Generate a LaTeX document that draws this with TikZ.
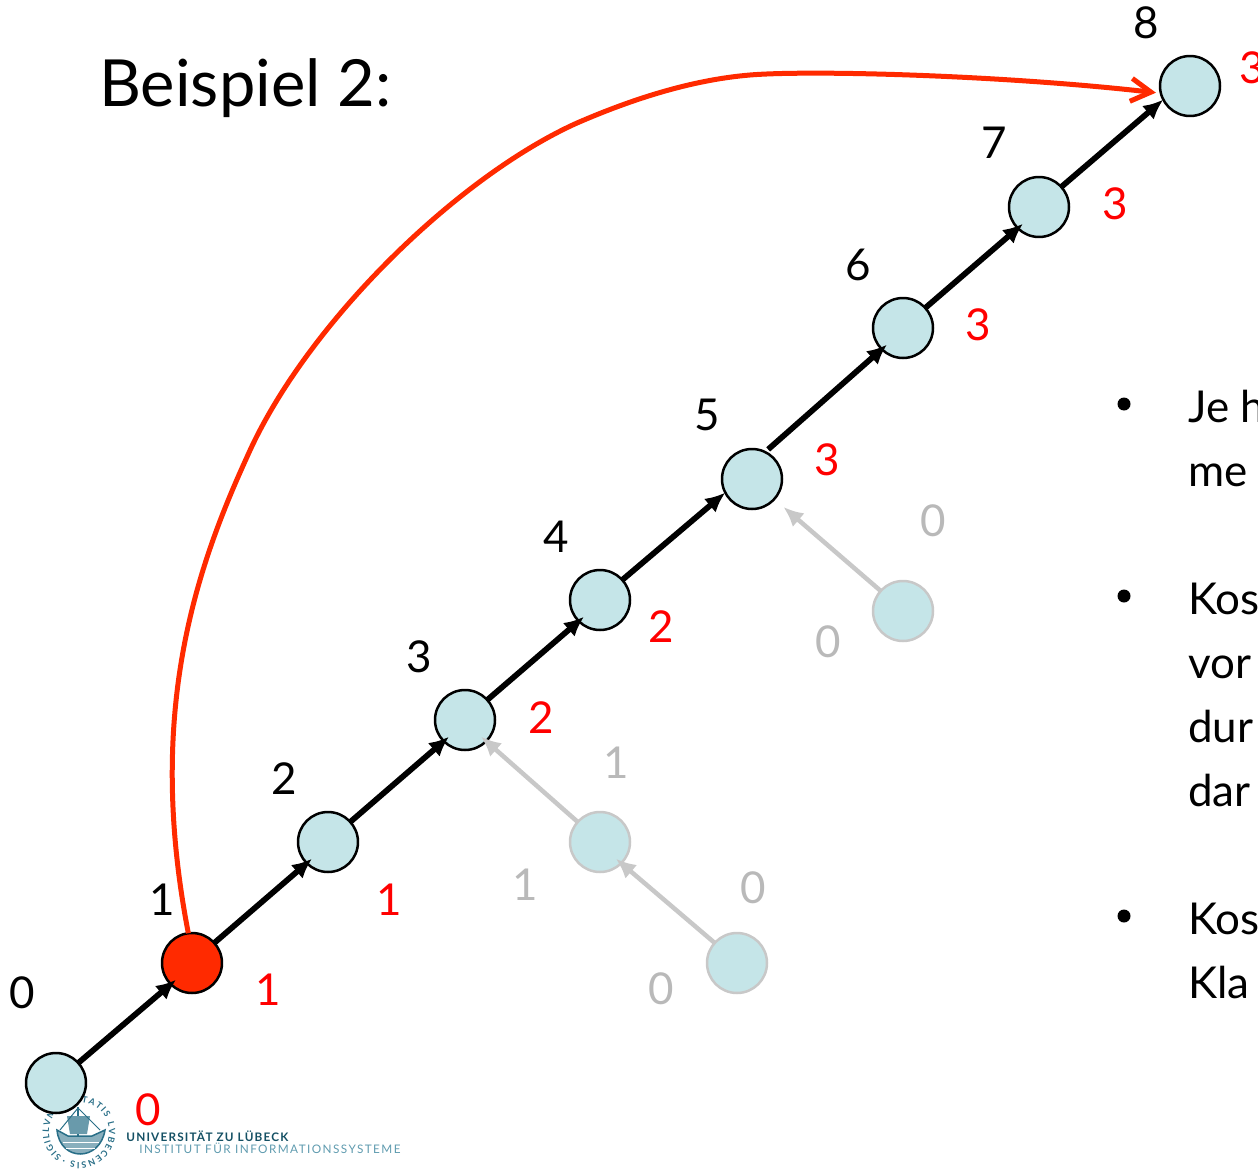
\documentclass[tikz,border=0pt]{standalone}
\usepackage{fontspec}
\setmainfont{Lato}
\usepackage{tikz}
\definecolor{vertexfill}{RGB}{197, 229, 232}
\definecolor{hitred}{RGB}{255, 42, 0}
\definecolor{rankred}{RGB}{255, 0, 0}
\definecolor{fadegray}{RGB}{200, 200, 200}
\definecolor{fadetext}{RGB}{185, 185, 185}
\definecolor{sealblue}{RGB}{40, 110, 135}
\definecolor{unidark}{RGB}{20, 80, 100}
\definecolor{unilight}{RGB}{95, 155, 175}
\usetikzlibrary{arrows.meta, decorations.text}

\begin{document}
\begin{tikzpicture}[
    x=0.02cm, y=-0.02cm,
    vertex/.style={circle, draw=black, line width=0.05cm, fill=vertexfill, minimum size=1.2cm, inner sep=0pt, outer sep=0pt},
    fadedvertex/.style={vertex, draw=fadegray},
    edge/.style={-{Latex[length=0.4cm, width=0.36cm]}, line width=0.115cm},
    fadededge/.style={edge, draw=fadegray},
    into/.style={shorten >=-0.14cm},
    index/.style={font=\fontsize{25}{25}\selectfont, inner sep=0pt},
    rank/.style={index, text=rankred},
    fadedrank/.style={index, text=fadetext},
    bulletitem/.style={font=\fontsize{25}{25}\selectfont, anchor=base west, inner sep=0pt},
    bulletdot/.style={circle, fill=black, minimum size=0.26cm, inner sep=0pt},
    logotext/.style={anchor=base west, inner sep=0pt}
]
    \clip (0,0) rectangle (1258,1170);

    \node[font=\fontsize{37}{37}\selectfont, anchor=base west, inner sep=0pt] (title) at (99,106) {Beispiel 2:};

    % seal and institute
    \coordinate (seal) at (79,1132);
    \path[decorate, decoration={text along path, text color=sealblue, text align=fit to path,
        text={|\fontsize{5}{5}\bfseries\selectfont|SIGILLVM CIVITATIS LVBECENSIS ·}}]
        ([shift={(235:0.6cm)}]seal) arc[start angle=235, end angle=-120, radius=0.6cm];
    \draw[sealblue, line width=0.03cm, fill=sealblue!55] (57,1130) .. controls (60,1162) and (100,1162) .. (105,1130) -- (92,1136) -- (68,1136) -- cycle;
    \draw[white, line width=0.02cm] (63,1142) -- (99,1142) (66,1148) -- (95,1148);
    \draw[sealblue, line width=0.05cm] (78,1107) -- (78,1137);
    \fill[sealblue!70] (67,1116) -- (90,1116) -- (87,1134) -- (70,1134) -- cycle;
    \draw[sealblue, line width=0.02cm] (78,1108) -- (60,1130) (78,1108) -- (100,1130);
    \node[logotext, font=\fontsize{6.7}{7}\bfseries\selectfont\addfontfeature{LetterSpace=10}, text=unidark] (uni) at (126,1141) {UNIVERSITÄT ZU LÜBECK};
    \node[logotext, font=\fontsize{6.7}{7}\selectfont\addfontfeature{LetterSpace=12}, text=unilight] (inst) at (139,1153) {INSTITUT FÜR INFORMATIONSSYSTEME};

    \node[vertex] (n0) at (56,1083) {};
    \node[vertex, fill=hitred] (n1) at (192,963) {};
    \node[vertex] (n2) at (328,842) {};
    \node[vertex] (n3) at (465,720) {};
    \node[vertex] (n4) at (600,600) {};
    \node[vertex] (n5) at (752,479) {};
    \node[vertex] (n6) at (903,328) {};
    \node[vertex] (n7) at (1039,207) {};
    \node[vertex] (n8) at (1190,86) {};

    \node[fadedvertex] (f1) at (903,611) {};
    \node[fadedvertex] (f2) at (600,842) {};
    \node[fadedvertex] (f3) at (737,963) {};

    \draw[fadededge, line width=0.09cm, shorten >=0.24cm] (f1.138) -- (n5.-42);
    \draw[fadededge, line width=0.09cm, into] (f2.138) -- (n3.-45);
    \draw[fadededge, line width=0.09cm, into] (f3.138) -- (f2.-45);

    \draw[edge, into] (n0.42) -- (n1.225);
    \draw[edge, into] (n1.42) -- (n2.225);
    \draw[edge, into] (n2.42) -- (n3.225);
    \draw[edge, into] (n3.42) -- (n4.225);
    \draw[edge] (n4.42) -- (n5.207);
    \draw[edge, shorten <=0.08cm, into] (n5.64) -- (n6.225);
    \draw[edge, into] (n6.42) -- (n7.225);
    \draw[edge] (n7.42) -- (n8.207);

    % long jump
    \coordinate (bendlow) at (247,457);
    \coordinate (bendmid) at (577,123);
    \coordinate (bend) at (750,75);
    \draw[hitred, line width=0.1cm, -{Straight Barb[length=0.4cm, width=0.46cm]}, shorten >=0.1cm]
        (n1.97) .. controls (147,720) and (192,577) .. (bendlow)
        .. controls (305,325) and (457,177) .. (bendmid)
        .. controls (630,100) and (690,80) .. (bend)
        .. controls (810,70) and (1000,75) .. (n8.194);

    \node[index] (i0) at (22,993) {0};
    \node[index] (i1) at (162,900) {1};
    \node[index] (i2) at (284,779) {2};
    \node[index] (i3) at (419,657) {3};
    \node[index] (i4) at (556,537) {4};
    \node[index] (i5) at (707,415) {5};
    \node[index] (i6) at (858,265) {6};
    \node[index] (i7) at (994,143) {7};
    \node[index] (i8) at (1146,23) {8};

    \node[rank] (r0) at (148,1110) {0};
    \node[rank] (r1) at (268,990) {1};
    \node[rank] (r2) at (389,900) {1};
    \node[rank] (r3) at (541,718) {2};
    \node[rank] (r4) at (661,627) {2};
    \node[rank] (r5) at (827,460) {3};
    \node[rank] (r6) at (978,325) {3};
    \node[rank] (r7) at (1115,204) {3};
    \node[rank] (r8) at (1252,68) {3};

    \node[fadedrank] (g1) at (933,521) {0};
    \node[fadedrank] (g2) at (828,642) {0};
    \node[fadedrank] (g3) at (616,763) {1};
    \node[fadedrank] (g4) at (525,885) {1};
    \node[fadedrank] (g5) at (753,888) {0};
    \node[fadedrank] (g6) at (661,989) {0};

    \node[bulletdot] (d1) at (1124,404) {};
    \node[bulletdot] (d2) at (1124,596) {};
    \node[bulletdot] (d3) at (1124,916) {};
    \node[bulletitem] (t1) at (1188,422) {Je h};
    \node[bulletitem] (t1b) at (1188,486) {me};
    \node[bulletitem] (t2) at (1188,614) {Kos};
    \node[bulletitem] (t2b) at (1188,678) {vor};
    \node[bulletitem] (t2c) at (1188,742) {dur};
    \node[bulletitem] (t2d) at (1188,806) {dar};
    \node[bulletitem] (t3) at (1188,934) {Kos};
    \node[bulletitem] (t3b) at (1188,998) {Kla};
\end{tikzpicture}
\end{document}
